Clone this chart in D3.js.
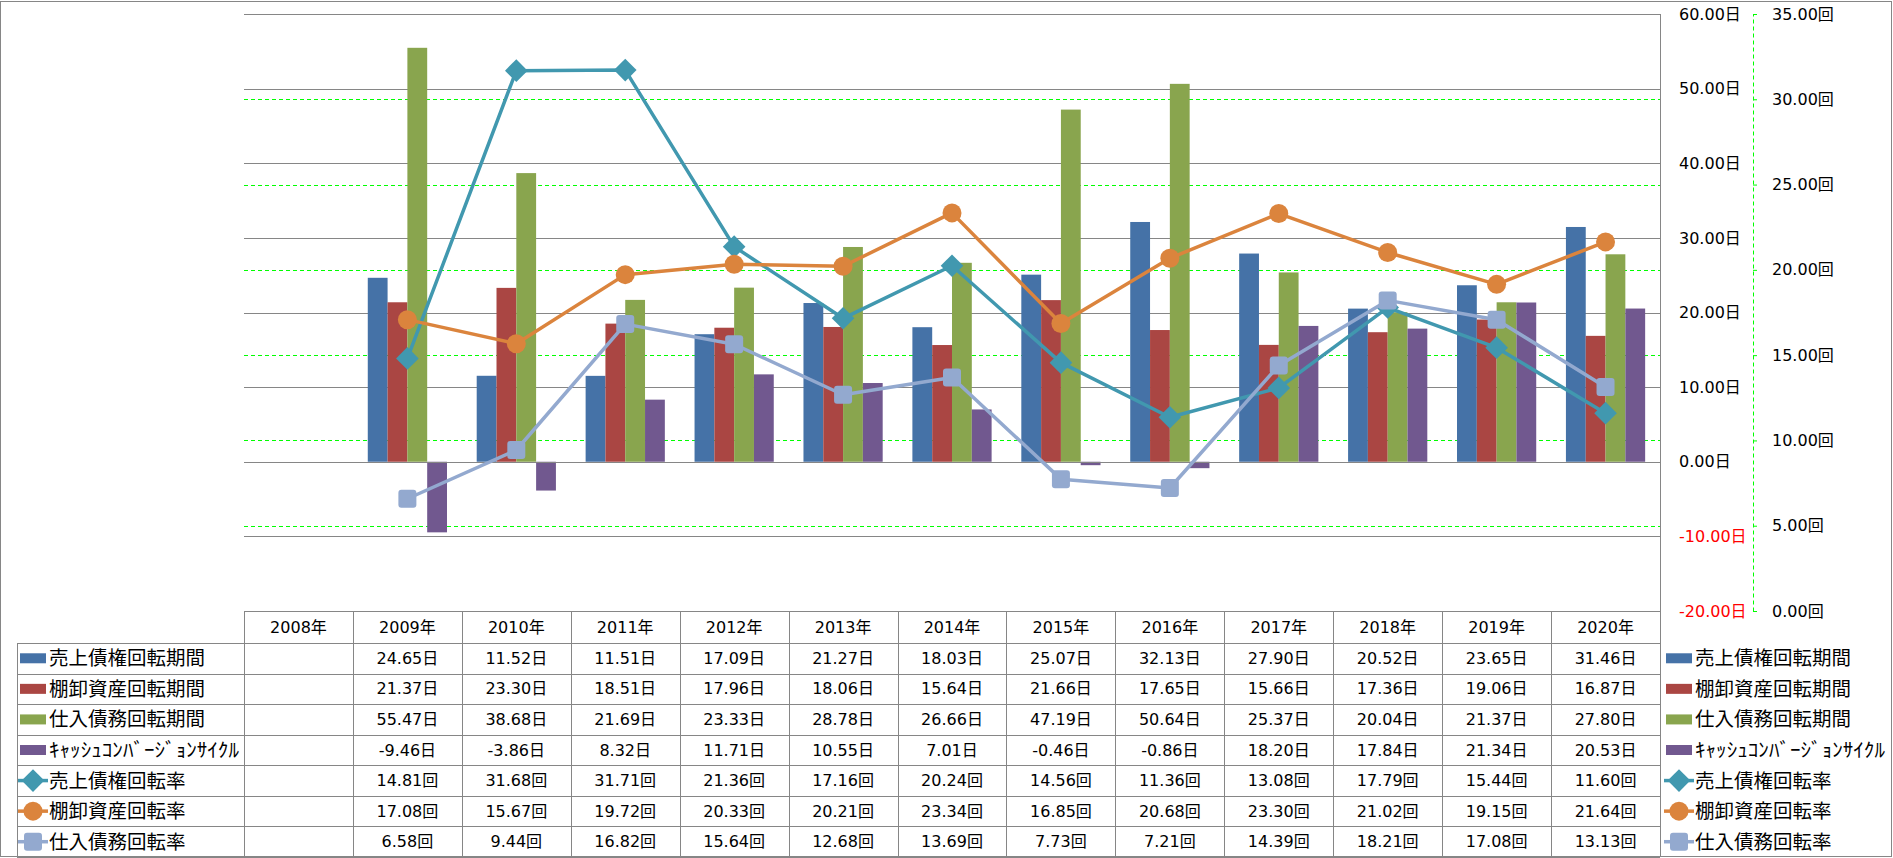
<!DOCTYPE html>
<html>
<head>
<meta charset="utf-8">
<script src="https://cdn.jsdelivr.net/npm/d3@7"></script>
<style>
  body { margin: 0; background: #fff; }
  svg { display: block; }
  text { font-family: "DejaVu Sans", "Noto Sans CJK JP", sans-serif; fill: #000; }
  .jp { font-family: "Noto Sans CJK JP", sans-serif; }
</style>
</head>
<body>
<svg id="chart" width="1893" height="858"></svg>
<script>
// data
const years = ["2008年","2009年","2010年","2011年","2012年","2013年","2014年","2015年","2016年","2017年","2018年","2019年","2020年"]

const barNames = ["売上債権回転期間","棚卸資産回転期間","仕入債務回転期間","ｷｬｯｼｭｺﾝﾊﾞｰｼﾞｮﾝｻｲｸﾙ"]
const uriageKikan = [null,24.65,11.52,11.51,17.09,21.27,18.03,25.07,32.13,27.90,20.52,23.65,31.46]
const tanaoroshiKikan = [null,21.37,23.30,18.51,17.96,18.06,15.64,21.66,17.65,15.66,17.36,19.06,16.87]
const shiireKikan = [null,55.47,38.68,21.69,23.33,28.78,26.66,47.19,50.64,25.37,20.04,21.37,27.80]
const ccc = [null,-9.46,-3.86,8.32,11.71,10.55,7.01,-0.46,-0.86,18.20,17.84,21.34,20.53]

const lineNames = ["売上債権回転率","棚卸資産回転率","仕入債務回転率"]
const uriageKaiten = [null,14.81,31.68,31.71,21.36,17.16,20.24,14.56,11.36,13.08,17.79,15.44,11.60]
const tanaoroshiKaiten = [null,17.08,15.67,19.72,20.33,20.21,23.34,16.85,20.68,23.30,21.02,19.15,21.64]
const shiireKaiten = [null,6.58,9.44,16.82,15.64,12.68,13.69,7.73,7.21,14.39,18.21,17.08,13.13]

const leftTicks = [-20,-10,0,10,20,30,40,50,60]
const rightTicks = [0,5,10,15,20,25,30,35]

const barColors = ["#4572A7","#AA4643","#89A54E","#71588F"]
const lineColors = ["#4198AF","#DB843D","#93A9CF"]
const markers = ["diamond","circle","square"]

const barSeries = [uriageKikan, tanaoroshiKikan, shiireKikan, ccc]
const lineSeries = [uriageKaiten, tanaoroshiKaiten, shiireKaiten]

const svg = d3.select("#chart")
const gridColor = "#868686"
const fmt = v => v.toFixed(2)  // keeps a plain hyphen for negatives

const x = d3.scaleBand().domain(years).range([244, 1660])
const bw = x.bandwidth() / 5.5
const xs = d3.scaleBand().domain(d3.range(4)).range([bw * 0.75, bw * 4.75])
const y = d3.scaleLinear().domain([-20, 60]).range([611, 14])
const y2 = d3.scaleLinear().domain([0, 35]).range([611, 14])

// outer frame
svg.append("rect").attr("x", 0.5).attr("y", 1.5).attr("width", 1891).attr("height", 855)
  .attr("fill", "none").attr("stroke", gridColor)

// gridlines
svg.append("g").selectAll("line").data(leftTicks).join("line")
  .attr("x1", 244).attr("x2", 1660)
  .attr("y1", d => Math.round(y(d)) + 0.5).attr("y2", d => Math.round(y(d)) + 0.5)
  .attr("stroke", gridColor)
svg.append("g").selectAll("line").data(rightTicks.slice(1, -1)).join("line")
  .attr("x1", 244).attr("x2", 1660)
  .attr("y1", d => Math.round(y2(d)) + 0.5).attr("y2", d => Math.round(y2(d)) + 0.5)
  .attr("stroke", "#00ff00").attr("stroke-dasharray", "4,3")

// bars
barSeries.forEach((vals, s) => {
  svg.append("g").selectAll("rect")
    .data(vals.map((v, i) => ({ year: years[i], v })).filter(d => d.v !== null))
    .join("rect")
    .attr("x", d => x(d.year) + xs(s))
    .attr("width", xs.bandwidth())
    .attr("y", d => y(Math.max(0, d.v)))
    .attr("height", d => Math.abs(y(d.v) - y(0)))
    .attr("fill", barColors[s])
})

// zero line on top of bars
svg.append("line").attr("x1", 244).attr("x2", 1660)
  .attr("y1", Math.round(y(0)) + 0.5).attr("y2", Math.round(y(0)) + 0.5).attr("stroke", gridColor)

const drawMarker = (g, type, cx, cy, color) => {
  if (type == "diamond") {
    g.append("rect").attr("x", -8).attr("y", -8).attr("width", 16).attr("height", 16)
      .attr("transform", `translate(${cx},${cy}) rotate(45)`).attr("fill", color)
  } else if (type == "circle") {
    g.append("circle").attr("cx", cx).attr("cy", cy).attr("r", 9.5).attr("fill", color)
  } else {
    g.append("rect").attr("x", cx - 9).attr("y", cy - 9).attr("width", 18).attr("height", 18)
      .attr("rx", 3).attr("fill", color)
  }
}

// lines
lineSeries.forEach((vals, s) => {
  const pts = vals.map((v, i) => ({ year: years[i], v })).filter(d => d.v !== null)
  const line = d3.line().x(d => x(d.year) + x.bandwidth() / 2).y(d => y2(d.v))
  const g = svg.append("g")
  g.append("path").attr("d", line(pts)).attr("fill", "none")
    .attr("stroke", lineColors[s]).attr("stroke-width", 3.5).attr("stroke-linejoin", "round")
  pts.forEach(d => drawMarker(g, markers[s], x(d.year) + x.bandwidth() / 2, y2(d.v), lineColors[s]))
})

// right border of plot
svg.append("line").attr("x1", 1660.5).attr("x2", 1660.5).attr("y1", 14).attr("y2", 857).attr("stroke", gridColor)

// primary axis labels
const axisL = svg.append("g").attr("transform", "translate(1660,0)")
  .call(d3.axisRight(y).tickValues(leftTicks).tickSize(0).tickPadding(19)
    .tickFormat(d => fmt(d) + "日"))
axisL.select(".domain").remove()
axisL.selectAll("text").attr("font-size", 16).attr("font-family", null)
  .style("fill", d => d < 0 ? "#ff0000" : "#000")

// secondary axis
const axisR = svg.append("g").attr("transform", "translate(1753,0)")
  .call(d3.axisRight(y2).tickValues(rightTicks).tickSizeInner(4).tickSizeOuter(0).tickPadding(15)
    .tickFormat(d => fmt(d) + "回"))
axisR.select(".domain").attr("stroke", "#00ff00").attr("stroke-dasharray", "4,3")
axisR.selectAll(".tick line").attr("stroke", "#00ff00")
axisR.selectAll("text").attr("font-size", 16).attr("font-family", null)

// data table
const rowNames = barNames.concat(lineNames)
const rowVals = barSeries.concat(lineSeries)
const rowUnits = ["日","日","日","日","回","回","回"]
const ry = d3.scaleBand().domain(d3.range(7)).range([643, 857])
const table = svg.append("g")

// header
table.append("line").attr("x1", 244).attr("x2", 1660).attr("y1", 611.5).attr("y2", 611.5).attr("stroke", gridColor)
table.append("line").attr("x1", 244.5).attr("x2", 244.5).attr("y1", 611).attr("y2", 857).attr("stroke", gridColor)
table.append("line").attr("x1", 17.5).attr("x2", 17.5).attr("y1", 643).attr("y2", 857).attr("stroke", gridColor)
table.selectAll(".hl").data(d3.range(8)).join("line")
  .attr("x1", 17).attr("x2", 1660)
  .attr("y1", i => Math.round(i < 7 ? ry(i) : 857) + 0.5).attr("y2", i => Math.round(i < 7 ? ry(i) : 857) + 0.5)
  .attr("stroke", gridColor)
table.selectAll(".vl").data(years.slice(1)).join("line")
  .attr("x1", d => Math.round(x(d)) + 0.5).attr("x2", d => Math.round(x(d)) + 0.5)
  .attr("y1", 611).attr("y2", 857).attr("stroke", gridColor)
table.selectAll(".yr").data(years).join("text")
  .attr("x", d => x(d) + x.bandwidth() / 2).attr("y", 627).attr("dy", "0.35em")
  .attr("text-anchor", "middle").attr("font-size", 16).text(d => d)

rowVals.forEach((vals, r) => {
  table.append("g").selectAll("text")
    .data(vals.map((v, i) => ({ year: years[i], v })).filter(d => d.v !== null))
    .join("text")
    .attr("x", d => x(d.year) + x.bandwidth() / 2)
    .attr("y", ry(r) + ry.bandwidth() / 2).attr("dy", "0.35em")
    .attr("text-anchor", "middle").attr("font-size", 16)
    .text(d => fmt(d.v) + rowUnits[r])
})

// legend keys (table row headers and right legend)
const drawKey = (x0, r) => {
  const cy = ry(r) + ry.bandwidth() / 2
  const g = svg.append("g")
  if (r < 4) {
    g.append("rect").attr("x", x0).attr("y", cy - 5).attr("width", 26).attr("height", 10).attr("fill", barColors[r])
  } else {
    g.append("line").attr("x1", x0 - 2).attr("x2", x0 + 28).attr("y1", cy).attr("y2", cy)
      .attr("stroke", lineColors[r - 4]).attr("stroke-width", 3.5)
    drawMarker(g, markers[r - 4], x0 + 13, cy, lineColors[r - 4])
  }
  const t = g.append("text").attr("class", "jp").attr("x", x0 + 29).attr("y", cy).attr("dy", "0.36em")
    .attr("font-size", 19.5).text(rowNames[r])
  if (r == 3) t.attr("textLength", 190).attr("lengthAdjust", "spacingAndGlyphs")
}
d3.range(7).forEach(r => {
  drawKey(20, r)
  drawKey(1666, r)
})
</script>
</body>
</html>
